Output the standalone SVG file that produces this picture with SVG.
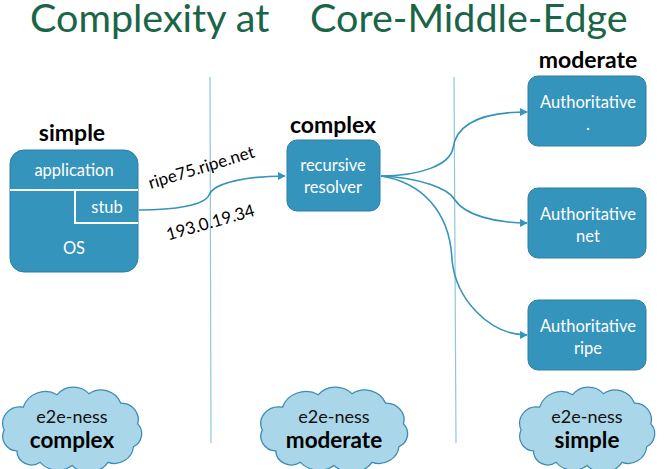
<svg xmlns="http://www.w3.org/2000/svg" width="667" height="469" viewBox="0 0 667 469">
<style>
.title{font-family:Lato,"Open Sans",sans-serif;font-size:39.5px;fill:#1a6548}
.box{fill:#3594bb;stroke:#2a7fa5;stroke-width:1}
.bt{font-family:Lato,"Open Sans",sans-serif;font-size:16.5px;fill:#ffffff;text-anchor:middle}
.hd{font-family:Lato,"Open Sans",sans-serif;font-size:23px;font-weight:bold;fill:#000;text-anchor:middle}
.lbl{font-family:Lato,"Open Sans",sans-serif;font-size:17px;fill:#000;text-anchor:middle}
.sep{stroke:#8fc6dd;stroke-width:1.2;fill:none}
.con{stroke:#3594bb;stroke-width:1.6;fill:none;marker-end:url(#arr)}
.cloud{fill:#a9d6e8;stroke:#3b8cb3;stroke-width:1.2}
.c1{font-family:Lato,"Open Sans",sans-serif;font-size:18px;fill:#111;text-anchor:middle}
.c2{font-family:Lato,"Open Sans",sans-serif;font-size:22.5px;font-weight:bold;fill:#000;text-anchor:middle}
.wl{stroke:#ffffff;stroke-width:2;fill:none}
</style>
<defs>
<marker id="arr" viewBox="0 0 10 10" refX="9" refY="5" markerWidth="5" markerHeight="5" orient="auto" markerUnits="strokeWidth">
<path d="M0,0 L10,5 L0,10 Z" fill="#3594bb"/>
</marker>
<path id="cloudShape" d="M-52,22 A14,14 0 0 1 -64,2 A16,16 0 0 1 -46,-20 A22,22 0 0 1 -14,-32 A20,20 0 0 1 16,-33 A20,20 0 0 1 46,-24 A16,16 0 0 1 62,-4 A14,14 0 0 1 58,18 A18,18 0 0 1 34,33 A22,22 0 0 1 0,36 A22,22 0 0 1 -30,33 A14,14 0 0 1 -52,22 Z"/>
</defs>
<text class="title" x="30" y="32">Complexity at</text>
<text class="title" x="310" y="32">Core-Middle-Edge</text>
<g id="separators">
<line class="sep" x1="210" y1="77" x2="211" y2="443"/>
<line class="sep" x1="454" y1="77" x2="456" y2="443"/>
</g>
<g id="connectors">
<path class="con" d="M139,210 C175,210 205,205 209,195 C214,182 250,176 285,176"/>
<path class="con" d="M381,176 C420,176 450,165 453,148 C457,120 490,112 527,112"/>
<path class="con" d="M381,176 C420,178 448,188 455,200 C465,215 495,223 527,223"/>
<path class="con" d="M381,176 C420,182 450,210 452,260 C456,300 490,335 527,335"/>
</g>
<g id="host">
<text class="hd" x="72" y="141">simple</text>
<rect class="box" x="10" y="150" width="128" height="122" rx="14"/>
<path class="wl" d="M10,190 H138 M75,190 V223 H138"/>
<text class="bt" x="74" y="176">application</text>
<text class="bt" x="107" y="213">stub</text>
<text class="bt" x="74" y="254">OS</text>
</g>
<text class="lbl" transform="translate(203,173) rotate(-17)">ripe75.ripe.net</text>
<text class="lbl" transform="translate(212,228) rotate(-16)">193.0.19.34</text>
<g id="resolver">
<text class="hd" x="333" y="133">complex</text>
<rect class="box" x="287" y="140" width="93" height="71" rx="10"/>
<text class="bt" x="333" y="171">recursive</text>
<text class="bt" x="333" y="193">resolver</text>
</g>
<text class="hd" x="588" y="68">moderate</text>
<g id="auth-root">
<rect class="box" x="528" y="76" width="118" height="70" rx="10"/>
<text class="bt" x="588" y="108">Authoritative</text>
<text class="bt" x="588" y="130">.</text>
</g>
<g id="auth-net">
<rect class="box" x="528" y="188" width="118" height="70" rx="10"/>
<text class="bt" x="588" y="220">Authoritative</text>
<text class="bt" x="588" y="242">net</text>
</g>
<g id="auth-ripe">
<rect class="box" x="528" y="300" width="118" height="70" rx="10"/>
<text class="bt" x="588" y="332">Authoritative</text>
<text class="bt" x="588" y="354">ripe</text>
</g>
<g id="cloud-left">
<use href="#cloudShape" class="cloud" transform="translate(72,428) scale(1.06,1.04)"/>
<text class="c1" x="72" y="423">e2e-ness</text>
<text class="c2" x="72" y="448">complex</text>
</g>
<g id="cloud-mid">
<use href="#cloudShape" class="cloud" transform="translate(334,428) scale(1.12,1.04)"/>
<text class="c1" x="334" y="423">e2e-ness</text>
<text class="c2" x="334" y="448">moderate</text>
</g>
<g id="cloud-right">
<use href="#cloudShape" class="cloud" transform="translate(587,428) scale(1.03,1.04)"/>
<text class="c1" x="587" y="423">e2e-ness</text>
<text class="c2" x="587" y="448">simple</text>
</g>
</svg>
